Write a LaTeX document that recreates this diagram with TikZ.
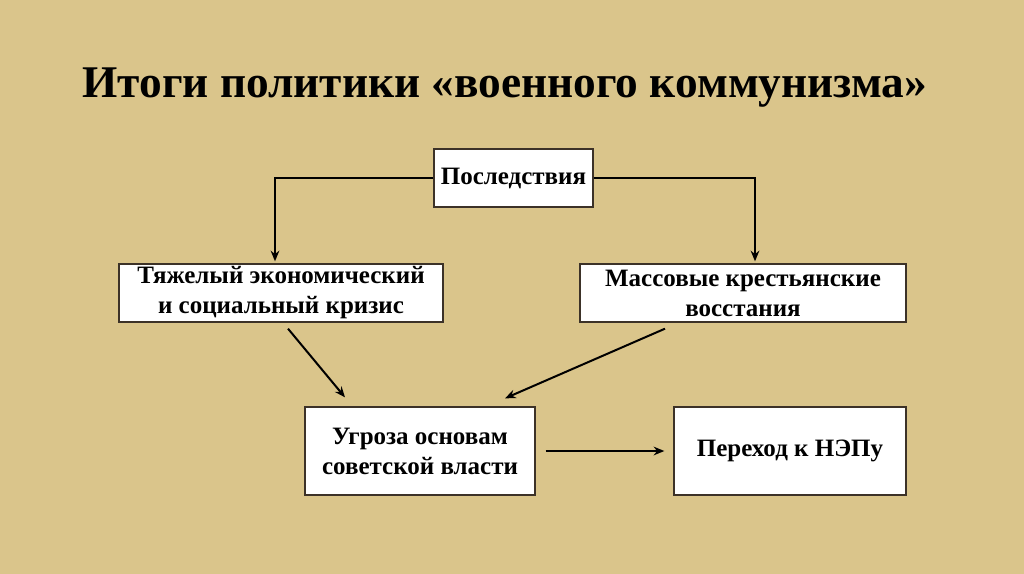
\documentclass[tikz,border=0pt]{standalone}
\usepackage{fontspec}
\setmainfont{Liberation Serif}
\usetikzlibrary{arrows.meta,calc}
\definecolor{parchment}{RGB}{218,197,139}
\definecolor{boxline}{RGB}{60,50,40}
\tikzset{
  stagebox/.style={draw=boxline, line width=1pt, fill=white, align=center,
    inner sep=0pt, font=\fontsize{18.75}{22.5}\selectfont\bfseries},
  link/.style={draw=black, line width=1.5pt, -{Stealth[length=8pt,width=6.5pt]}}
}
\begin{document}
\begin{tikzpicture}[x=0.75pt,y=-0.75pt]
\fill[parchment] (0,0) rectangle (1024,574);
\useasboundingbox (0,0) rectangle (1024,574);
\node[font=\fontsize{34}{40}\selectfont\bfseries] (title) at (505,88) {Итоги политики «военного коммунизма»};
\node[stagebox, minimum width=119.25pt, minimum height=43.5pt] (cons) at (513.5,178) {Последствия};
\node[stagebox, minimum width=243pt, minimum height=43.5pt] (crisis) at (281,293) {Тяжелый экономический\\и социальный кризис};
\node[stagebox, minimum width=244.5pt, minimum height=43.5pt] (revolt) at (743,293) {Массовые крестьянские\\восстания};
\node[stagebox, minimum width=172.5pt, minimum height=66pt] (threat) at (420,451) {Угроза основам\\советской власти};
\node[stagebox, minimum width=174pt, minimum height=66pt] (nep) at (790,451) {Переход к НЭПу};
\path[link] (cons.west) -| ($(crisis.north)+(-6,-2)$);
\path[link] (cons.east) -| ($(revolt.north)+(12,-2)$);
\path[link] ($(crisis.south)+(7,6)$) -- ($(threat.north)+(-75,-9)$);
\path[link] ($(revolt.south)+(-78,6)$) -- ($(threat.north)+(85,-8)$);
\path[link, shorten <=7.5pt, shorten >=6.75pt] (threat.east) -- (nep.west);
\end{tikzpicture}
\end{document}
